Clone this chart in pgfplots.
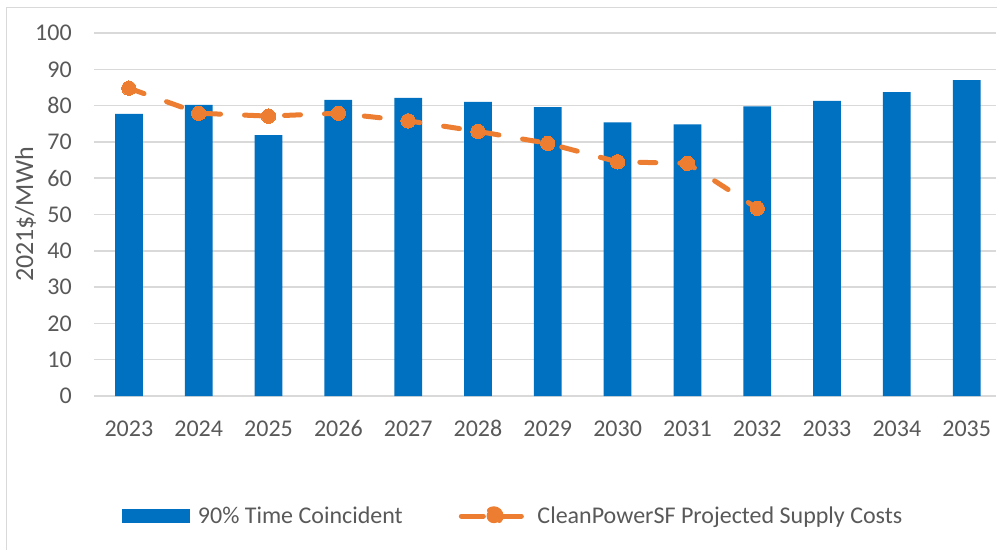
\documentclass[border=0pt]{standalone}
\usepackage{pgfplots}
\pgfplotsset{compat=1.18}
\usepackage{fontspec}
\setmainfont{Carlito}
\definecolor{barblue}{HTML}{0070C0}
\definecolor{lineorange}{HTML}{ED7D31}
\definecolor{txt}{HTML}{595959}
\definecolor{gridc}{HTML}{D9D9D9}
\begin{document}
\begin{tikzpicture}
\begin{axis}[
  name=ax,
  scale only axis,
  width=676.5pt, height=272.25pt,
  xmin=2022.5, xmax=2035.42, ymin=0, ymax=100,
  axis line style={draw=none},
  major tick length=0pt,
  ymajorgrids,
  grid style={gridc, line width=1.1pt},
  xtick={2023,2024,2025,2026,2027,2028,2029,2030,2031,2032,2033,2034,2035},
  xticklabels={2023,2024,2025,2026,2027,2028,2029,2030,2031,2032,2033,2034,2035},
  ytick={0,10,...,100},
  /pgf/number format/assume math mode=true,
  tick label style={font=\fontsize{18}{21.6}\selectfont, text=txt},
  xticklabel style={anchor=base, yshift=-30pt},
  yticklabel style={anchor=east, inner sep=0pt, xshift=-16.5pt},
  ylabel={2021\$/MWh},
  ylabel style={font=\fontsize{19.5}{23}\selectfont, text=txt, at={(axis description cs:0,0.5)}, anchor=center, yshift=51.4pt},
  legend style={at={(axis description cs:0.031,-0.3306)}, anchor=west, draw=none, fill=none, inner sep=0pt, outer sep=0pt,
    nodes={inner sep=0pt, text=txt, font=\fontsize{18}{21.6}\selectfont},
    /tikz/every even column/.append style={column sep=0pt}},
  legend columns=2,
  legend cell align=left,
]
\addplot[ybar, bar width=20.8pt, fill=barblue, draw=none,
  legend image code/.code={\fill[barblue] (0pt,-5.25pt) rectangle (51pt,5.25pt); \path[draw=none,fill=none] (0pt,0pt) -- (57pt,0pt);}]
  coordinates {(2023,77.7) (2024,80.2) (2025,71.9) (2026,81.6) (2027,82.1) (2028,81.0) (2029,79.6) (2030,75.4) (2031,74.8) (2032,79.8) (2033,81.3) (2034,83.7) (2035,87.0)};
\addlegendentry{90\% Time Coincident}
\addplot[lineorange, line width=3.75pt, dash pattern=on 12pt off 18pt, line cap=round,
  mark=*, mark size=5.4pt, mark options={solid, line width=0pt, draw=lineorange, fill=lineorange},
  legend image code/.code={
    \path[draw=none,fill=none] (0pt,0pt) -- (101pt,0pt);
    \draw[solid, line cap=round] (43.9pt,0pt) -- (60.4pt,0pt);
    \draw[solid, line cap=round] (73.9pt,0pt) -- (88.9pt,0pt);
    \fill[lineorange] (68.25pt,0pt) circle (5.4pt);}]
  coordinates {(2023,84.8) (2024,77.9) (2025,77.1) (2026,77.9) (2027,75.8) (2028,72.9) (2029,69.6) (2030,64.5) (2031,64.1) (2032,51.7)};
\addlegendentry{CleanPowerSF Projected Supply Costs}
\end{axis}
\draw[gridc, line width=0.75pt] (ax.south west) ++(-65.25pt,-115.5pt) -- ++(0pt,406.5pt) -- ++(742.5pt,0pt);
\pgfresetboundingbox
\path[use as bounding box] (ax.south west) ++(-70.5pt,-115.5pt) rectangle ++(747.75pt,412.5pt);
\end{tikzpicture}
\end{document}
